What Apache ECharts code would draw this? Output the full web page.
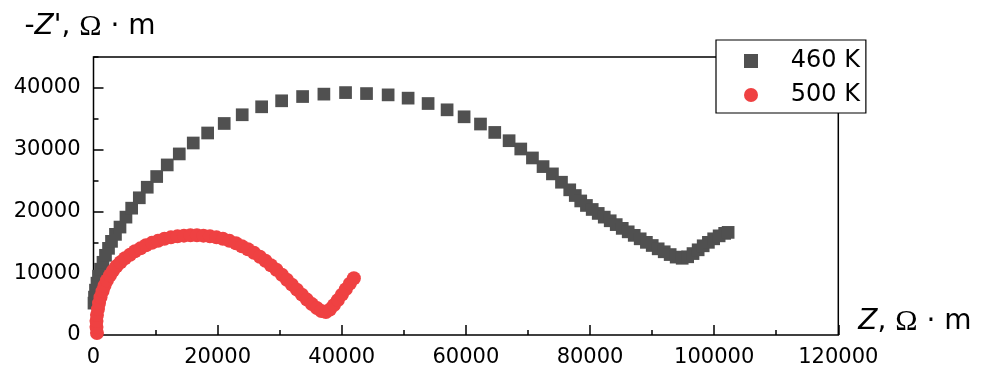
<!DOCTYPE html>
<html>
<head>
<meta charset="utf-8">
<script src="https://cdn.jsdelivr.net/npm/echarts@6/dist/echarts.min.js"></script>
<style>
  html, body { margin: 0; padding: 0; background: #ffffff; }
  #chart { width: 995px; height: 374px; }
</style>
</head>
<body>
<div id="chart"></div>
<script>
// Nyquist plot: real part Z (x) vs. negative imaginary part -Z'' (y), in Ω·m
const seriesNames = ['460 K', '500 K'];

// 460 K
const re460 = [80, 160, 320, 560, 810, 1130, 1530, 1930, 2420, 2900, 3540, 4270,
  5230, 6150, 7380, 8660, 10180, 11880, 13820, 16070, 18390, 21060, 23960, 27090,
  30310, 33690, 37120, 40610, 43990, 47470, 50690, 53910, 56970, 59710, 62350,
  64650, 66960, 68840, 70720, 72430, 73940, 75400,
  76730, 77620, 78500, 79420, 80350, 81320, 82290, 83250, 84220, 85190,
  86150, 87120, 88080, 89080, 90020, 90980, 91950, 92910, 93880, 94850,
  95730, 96590, 97420, 98230, 99070, 99920, 100800, 101690, 102250];
const im460 = [5160, 6130, 7260, 8390, 9520, 10650, 11770, 12900, 14030, 15160, 16290, 17470,
  19080, 20530, 22210, 23920, 25650, 27530, 29310, 31080, 32700, 34240, 35650, 36940,
  37910, 38600, 38990, 39240, 39080, 38870, 38340, 37470, 36450, 35320, 34150,
  32790, 31450, 30110, 28660, 27260, 26080, 24730,
  23500, 22580, 21700, 20970, 20320, 19680, 19080, 18490, 17870, 17260,
  16700, 16130, 15570, 15000, 14490, 13950, 13470, 13020, 12610, 12420,
  12660, 13180, 13790, 14440, 15000, 15570, 16050, 16450, 16610];

// 500 K
const re500 = [560, 480, 480, 560, 720, 890, 1130, 1450, 1770, 2170, 2660, 3140,
  3700, 4350, 5070, 5880, 6680, 7570, 8450, 9420, 10390, 11430, 12480, 13530,
  14570, 15620, 16670, 17710, 18760, 19810, 20850, 21900, 22950, 23910, 24880,
  25850, 26810, 27700, 28580, 29470, 30350, 31160, 31960, 32770, 33580, 34380,
  35190, 35990, 36720, 37440, 38080, 38730, 39370, 40020, 40660, 41300, 41950];
const im500 = [320, 1290, 2260, 3230, 4190, 5160, 6130, 7100, 7980, 8870, 9680, 10400,
  11130, 11770, 12420, 12990, 13550, 14030, 14520, 14920, 15240, 15570, 15810, 15970,
  16080, 16130, 16130, 16080, 15970, 15810, 15570, 15240, 14840, 14360, 13870,
  13310, 12660, 12020, 11290, 10570, 9760, 8950, 8150, 7340, 6530, 5730,
  5000, 4360, 3870, 3710, 4110, 4840, 5650, 6530, 7420, 8310, 9190];

// axis ranges and steps
const xMin = 0, xMax = 120000, xStep = 20000, xMinorStep = 10000;
const yMin = 0, yMax = 45000, yStep = 10000, yMinorStep = 5000;

const FONT = 'DejaVu Sans';
const pairs = (xs, ys) => xs.map((x, i) => [x, ys[i]]);

const tickStyle = { color: '#000', width: 1.5 };

function valueAxis(min, max, step, major) {
  return {
    type: 'value', min: min, max: max, interval: step,
    axisLine: { show: false },
    splitLine: { show: false },
    axisTick: { show: true, inside: true, length: major ? 10 : 5, lineStyle: tickStyle },
    axisLabel: {
      show: major, color: '#000', fontFamily: FONT, fontSize: 21,
      formatter: (v) => String(v)
    },
    silent: true
  };
}

const nameStyle = (align, padding) => ({
  color: '#000', fontFamily: FONT, fontSize: 28, align: align, verticalAlign: 'middle',
  padding: padding,
  rich: {
    it: { fontFamily: FONT, fontSize: 28, fontStyle: 'italic', color: '#000' },
    om: { fontFamily: 'Liberation Serif', fontSize: 30, color: '#000' }
  }
});

const xMajor = valueAxis(xMin, xMax, xStep, true);
xMajor.position = 'bottom';
xMajor.axisLabel.margin = 12;
xMajor.name = '{it|Z}, {om|Ω} · m';
xMajor.nameLocation = 'end';
xMajor.nameGap = 20;
xMajor.nameTextStyle = nameStyle('left', [0, 0, 26, 0]);
const xMinor = valueAxis(xMin, xMax, xMinorStep, false);
xMinor.position = 'bottom';

const yMajor = valueAxis(yMin, yMax, yStep, true);
yMajor.position = 'left';
yMajor.axisLabel.margin = 13;
yMajor.axisLabel.showMaxLabel = false;
yMajor.name = '-{it|Z\'}, {om|Ω} · m';
yMajor.nameLocation = 'end';
yMajor.nameGap = 30;
yMajor.nameTextStyle = nameStyle('center', [0, 7, 0, 0]);
const yMinor = valueAxis(yMin, yMax, yMinorStep, false);
yMinor.position = 'left';

const chart = echarts.init(document.getElementById('chart'), null, { renderer: 'canvas' });
chart.setOption({
  animation: false,
  backgroundColor: '#ffffff',
  grid: {
    left: 93.5, right: 156.7, top: 57, bottom: 39,
    show: true, borderColor: '#000', borderWidth: 1.5, backgroundColor: 'transparent'
  },
  xAxis: [xMajor, xMinor],
  yAxis: [yMajor, yMinor],
  legend: {
    orient: 'vertical', left: 716, top: 40,
    data: [{ name: seriesNames[0], icon: 'rect' }, { name: seriesNames[1], icon: 'circle' }],
    itemWidth: 14, itemHeight: 14, itemGap: 10,
    padding: [9, 6, 6, 28],
    backgroundColor: '#ffffff', borderColor: '#000', borderWidth: 1.2, borderRadius: 0,
    textStyle: { color: '#000', fontFamily: FONT, fontSize: 24, lineHeight: 24, padding: [0, 0, 0, 27.7] },
    selectedMode: false, z: 10
  },
  series: [
    {
      name: seriesNames[0], type: 'scatter', xAxisIndex: 0, yAxisIndex: 0,
      symbol: 'rect', symbolSize: 12.7,
      itemStyle: { color: '#505050', opacity: 1 },
      emphasis: { disabled: true },
      data: pairs(re460, im460), z: 2
    },
    {
      name: seriesNames[1], type: 'scatter', xAxisIndex: 0, yAxisIndex: 0,
      symbol: 'circle', symbolSize: 14,
      itemStyle: { color: '#ef4142', opacity: 1 },
      emphasis: { disabled: true },
      data: pairs(re500, im500), z: 3
    }
  ]
});
</script>
</body>
</html>
